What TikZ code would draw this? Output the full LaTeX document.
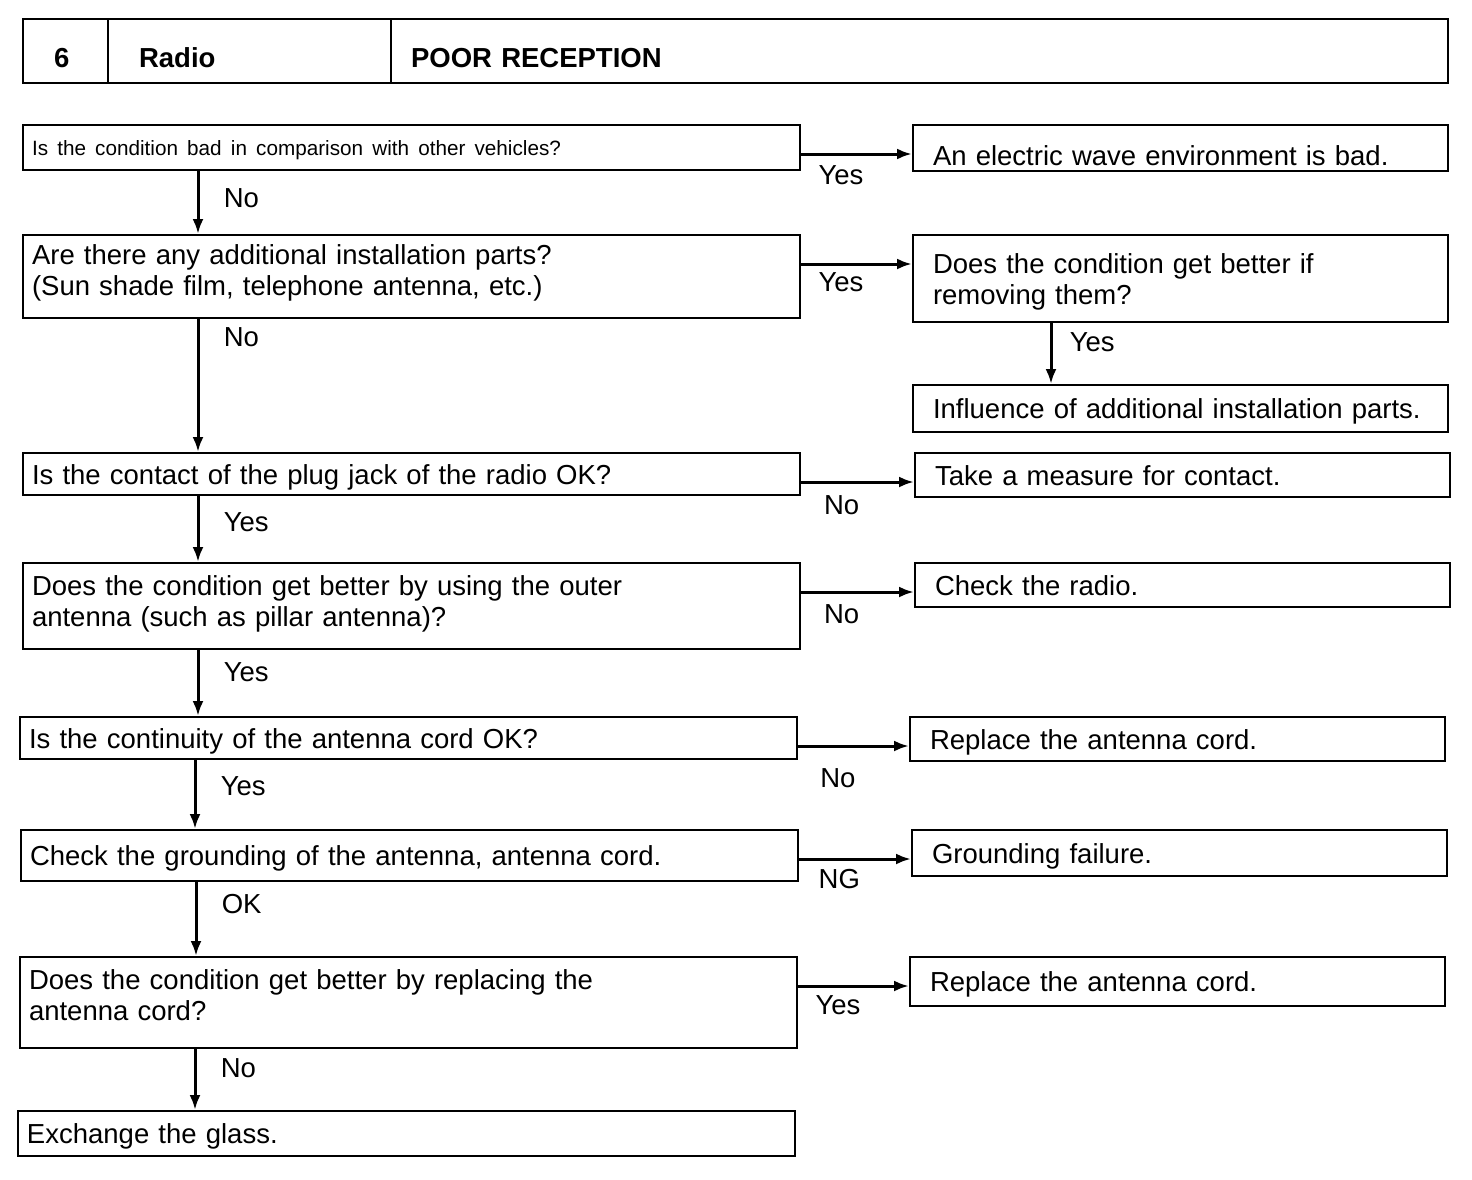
\documentclass[tikz,border=0pt]{standalone}
\usepackage{fontspec}
\setmainfont{Liberation Sans}
\usetikzlibrary{arrows.meta}

\begin{document}
\begin{tikzpicture}[x=1pt,y=-1pt]
\tikzstyle{box}=[draw,line width=2pt,anchor=north west,inner xsep=9pt,align=left,font=\fontsize{27.5}{31}\selectfont]
\tikzstyle{ans}=[box,inner xsep=20pt]
\tikzstyle{head}=[box,line width=2.2pt,minimum height=64pt,text height=34pt,font=\bfseries\fontsize{27.5}{31}\selectfont]
\tikzstyle{arr}=[line width=3pt,-{Latex[length=15pt,width=11pt]}]
\tikzstyle{lbl}=[font=\fontsize{27.5}{31}\selectfont]
\useasboundingbox (0,0) rectangle (1472,1180);
% header
\node[head,inner xsep=31pt,text width=23pt] (hnum) at (22,18) {6};
\node[head,inner xsep=31pt,text width=221pt] (htopic) at (107,18) {Radio};
\node[head,inner xsep=20pt,text width=1017pt] (htitle) at (390,18) {POOR RECEPTION};
% questions
\foreach \name/\x/\y/\h/\th/\td/\txt in {
	q1/22/124/45/16/0/{\fontsize{20.7}{26}\selectfont Is the condition bad in comparison with other vehicles?},
	q2/22/234/83/20/45/{Are there any additional installation parts?\\(Sun shade film, telephone antenna, etc.)},
	q3/22/452/42/20/0/{Is the contact of the plug jack of the radio OK?},
	q4/22/562/86/20/42/{Does the condition get better by using the outer\\antenna (such as pillar antenna)?},
	q5/19/716/42/20/0/{Is the continuity of the antenna cord OK?},
	q6/20/829/51/20/0/{Check the grounding of the antenna, antenna cord.},
	q7/19/956/91/20/47/{Does the condition get better by replacing the\\antenna cord?},
	q8/17/1110/45/20/0/{Exchange the glass.}}
	\node[box,text width=759pt,minimum height=\h pt,text height=\th pt,text depth=\td pt] (\name) at (\x,\y) {\txt};
% answers
\foreach \name/\x/\y/\h/\th/\td/\txt in {
	a1/912/124/46/34/0/{An electric wave environment is bad.},
	a2/912/234/87/20/31/{Does the condition get better if\\removing them?},
	a3/912/384/47/20/0/{Influence of additional installation parts.},
	a4/914/452/44/20/0/{Take a measure for contact.},
	a5/914/562/44/20/0/{Check the radio.},
	a6/909/716/44/20/0/{Replace the antenna cord.},
	a7/911/829/46/20/0/{Grounding failure.},
	a8/909/956/49/20/0/{Replace the antenna cord.}}
	\node[ans,text width=495pt,minimum height=\h pt,text height=\th pt,text depth=\td pt] (\name) at (\x,\y) {\txt};
% side arrows
\foreach \q/\a/\t/\s in {q1/a1/Yes/10,q2/a2/Yes/7,q3/a4/No/12,q4/a5/No/11,q5/a6/No/21,q6/a7/NG/9,q7/a8/Yes/8}
	\draw[arr] ([yshift=-30pt]\q.north east) -- ([yshift=-30pt]\q.north east -| \a.west) node[lbl,pos=0.36,below,inner sep=\s pt] {\t};
% down arrows
\foreach \q/\n/\t/\p in {q1/q2/No/0.43,q2/q3/No/0.14,q3/q4/Yes/0.40,q4/q5/Yes/0.34,q5/q6/Yes/0.38,q6/q7/OK/0.30,q7/q8/No/0.32}
	\draw[arr] ([xshift=176pt]\q.south west) -- ([xshift=176pt]\q.south west |- \n.north) node[lbl,pos=\p,right,xshift=21pt] {\t};
\draw[arr] ([xshift=139pt]a2.south west) -- ([xshift=139pt]a2.south west |- a3.north) node[lbl,pos=0.32,right,xshift=14pt] {Yes};
\end{tikzpicture}
\end{document}
